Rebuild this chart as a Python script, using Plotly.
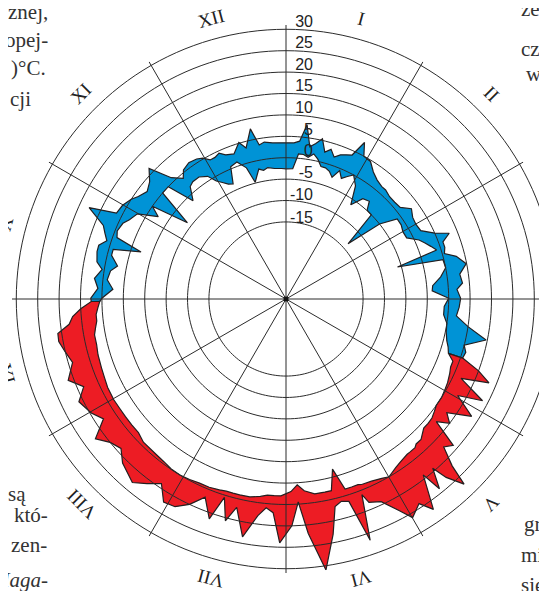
import numpy as np
import plotly.graph_objects as go

# ---- data (day of year, daily max / min temperature, deg C) ----
days = [0, 3, 5, 7, 9, 11, 13, 15, 17, 19, 21, 23, 25, 27, 29, 32, 35, 38, 41, 43,
        46, 49, 52, 55, 58, 61, 64, 67, 69, 71, 73, 75, 77, 80, 83, 86, 88, 91, 94, 97,
        100, 103, 106, 108, 110, 112, 114, 116, 119, 121, 124, 127, 129, 131, 133, 135, 137, 138, 140, 141,
        143, 144, 147, 149, 152, 154, 157, 160, 161, 163, 165, 167, 169, 171, 174, 177, 179, 181, 184, 186,
        188, 190, 193, 196, 198, 200, 202, 205, 208, 211, 214, 217, 220, 223, 228, 231, 234, 237, 240, 243,
        247, 250, 253, 257, 260, 263, 265, 267, 269, 271, 273, 274, 277, 280, 283, 285, 288, 290, 292, 294,
        296, 299, 301, 304, 307, 309, 312, 315, 318, 321, 324, 326, 329, 332, 334, 336, 338, 340, 342, 345,
        348, 350, 353, 355, 357, 360, 363]
tmax = [3.5, 3.5, 4.0, 8.0, 3.0, 4.0, 5.4, 2.5, 3.5, 2.0, 3.0, 3.5, 4.0, 7.9, 5.0, 4.7, 3.0, 2.0, 1.5, 1.5,
        1.0, 1.0, 1.2, 3.1, 2.2, 2.0, 2.3, 5.0, 8.1, 6.0, 6.0, 5.5, 8.0, 9.9, 8.0, 8.4, 7.0, 7.8, 7.5, 7.0,
        10.0, 14.7, 10.0, 10.8, 10.5, 15.0, 18.3, 11.9, 18.7, 13.0, 18.3, 13.0, 15.0, 12.3, 18.9, 17.5, 22.0, 27.0, 23.0, 19.3,
        24.0, 19.1, 27.0, 24.0, 26.0, 23.0, 19.3, 18.3, 16.0, 26.7, 16.5, 16.0, 16.8, 23.0, 31.0, 22.0, 14.5, 20.0, 24.0, 17.0,
        16.0, 18.0, 23.5, 17.0, 20.7, 15.5, 21.4, 17.0, 20.0, 22.0, 22.4, 19.0, 21.0, 22.9, 21.1, 19.0, 20.0, 22.2, 18.0, 19.7,
        21.0, 18.5, 21.3, 19.0, 20.0, 21.0, 20.9, 18.0, 17.0, 15.0, 12.5, 12.6, 11.0, 12.0, 10.5, 12.0, 12.5, 12.5, 11.0, 12.0,
        13.0, 17.7, 11.4, 11.0, 10.0, 9.0, 8.0, 9.0, 11.2, 6.0, 4.0, 5.5, 6.1, 5.8, 5.2, 4.0, 4.0, 4.5, 3.5, 3.0,
        5.2, 3.5, 7.6, 3.5, 4.0, 3.6, 3.5]
tmin = [-2.6, -2.5, 1.0, 1.0, 0.5, 1.5, 0.5, -1.0, -1.0, -1.5, -2.6, -0.5, -2.0, -1.0, 0.0, -2.0, -6.3, -3.5, -3.0, -4.9,
        -5.0, -13.6, -5.0, -1.0, -1.0, -1.5, -1.4, 1.0, 2.0, 3.0, 4.0, -5.9, 4.8, 5.0, 3.5, 1.4, 1.2, 5.0, 4.0, 4.0,
        5.0, 5.2, 5.8, 6.5, 7.0, 8.6, 8.6, 9.0, 9.5, 9.7, 10.0, 10.0, 10.5, 11.0, 11.1, 11.1, 12.0, 12.5, 12.5, 13.0,
        13.0, 13.0, 13.5, 14.0, 15.0, 14.5, 14.0, 13.8, 13.5, 13.5, 13.5, 8.2, 13.0, 13.0, 13.0, 12.0, 10.5, 12.0, 13.0, 13.0,
        13.0, 13.5, 14.0, 14.0, 14.0, 14.0, 14.2, 14.5, 14.5, 14.8, 15.0, 14.9, 14.5, 14.3, 14.2, 13.5, 13.5, 13.5, 13.5, 13.6,
        13.5, 13.2, 13.0, 12.8, 12.5, 12.5, 12.0, 11.5, 11.5, 11.0, 10.5, 10.0, 7.5, 9.0, 8.5, 7.1, 9.0, 9.0, 2.6, 9.0,
        9.5, 9.0, 8.0, 7.0, 2.5, 5.0, -3.9, 5.0, 5.0, -1.4, 1.5, 2.0, 2.0, 1.0, -1.0, -2.0, -3.0, -3.4, 0.5, 1.0,
        -1.0, -4.8, -2.0, -2.5, -2.0, -2.4, -2.5]

warm_first_day = 110   # red part of the year
warm_last_day = 273
radial_ticks = [-15, -10, -5, 0, 5, 10, 15, 20, 25, 30]
month_labels = ["I", "II", "III", "IV", "V", "VI", "VII", "VIII", "IX", "X", "XI", "XII"]

# page text around the figure (fragments of the surrounding article), page pixel positions
page_left = [("znej,", 50, 12, False), ("opej-", 50, 40, False), (")°C.", 48, 68, False),
             ("cji", 33, 99, False), ("-", 8, 461, False), ("są", 28, 494, False),
             ("któ-", 50, 515, False), ("zen-", 49, 545, False), ("Maga-", 50, 580, True)]
page_right = [("że", 519, 9), ("czy", 519, 49), ("w", 524, 74),
              ("gru", 522, 524), ("mi", 519, 555), ("się", 519, 585)]

# ---- geometry (page pixels; the page body adds an 8 px margin around the figure) ----
PAGE_OFF = 8
CX_PAGE, CY_PAGE, RADIUS = 286, 299, 274
R_MIN, R_MAX = -33, 31
ML = CX_PAGE - PAGE_OFF - RADIUS
MT = CY_PAGE - PAGE_OFF - RADIUS
MR, MB = 0, 20
plot_w = plot_h = 2 * RADIUS
W, H = ML + plot_w + MR, MT + plot_h + MB
cx, cy = ML + RADIUS, MT + RADIUS          # figure pixels
px_per_unit = RADIUS / (R_MAX - R_MIN)


def to_paper(xpage, ypage):
    xf, yf = xpage - PAGE_OFF, ypage - PAGE_OFF
    return (xf - ML) / plot_w, (H - MB - yf) / plot_h


RED = "#ED1C24"
BLUE = "#0093D6"
INK = "#231F20"

d = np.array(days)
hi = np.array(tmax)
lo = np.array(tmin)
theta = d * 360.0 / 365.0


def band(idx):
    th = theta[idx]
    r = np.concatenate([hi[idx], lo[idx][::-1], hi[idx][:1]])
    t = np.concatenate([th, th[::-1], th[:1]])
    return r, t


warm_idx = np.where((d >= warm_first_day) & (d <= warm_last_day))[0]
cold_idx = np.concatenate([np.where(d >= warm_last_day)[0], np.where(d <= warm_first_day)[0]])

fig = go.Figure()
for idx, col in ((cold_idx, BLUE), (warm_idx, RED)):
    r, t = band(idx)
    fig.add_trace(go.Scatterpolar(r=r, theta=t, mode="lines", fill="toself", fillcolor=col,
                                  line=dict(color=INK, width=1.2), hoverinfo="skip", showlegend=False))

# grid drawn over the bands
circ_theta = np.arange(0, 361, 2)
gr, gt = [], []
for v in radial_ticks:
    gr += [v] * len(circ_theta) + [None]
    gt += list(circ_theta) + [None]
for a in range(0, 360, 30):
    gr += [R_MIN, R_MAX, None]
    gt += [a, a, None]
fig.add_trace(go.Scatterpolar(r=gr, theta=gt, mode="lines", line=dict(color="#2b2b2b", width=1),
                              hoverinfo="skip", showlegend=False, connectgaps=False))
fig.add_trace(go.Scatterpolar(r=[R_MIN], theta=[0], mode="markers", marker=dict(color="#111", size=5),
                              hoverinfo="skip", showlegend=False))

# radial tick labels along the vertical axis, sitting just above each circle
lab_r = np.array(radial_ticks, dtype=float)
lab_t = np.degrees(np.arcsin(27 / ((lab_r - R_MIN) * px_per_unit)))
fig.add_trace(go.Scatterpolar(r=lab_r, theta=lab_t, mode="text", text=[str(v) for v in radial_ticks],
                              textposition="top left", cliponaxis=False,
                              textfont=dict(family="Liberation Sans, Arial", size=16, color="#222"),
                              hoverinfo="skip", showlegend=False))

annotations = []
for i, lab in enumerate(month_labels):
    a = 15 + 30 * i
    xp = cx + 290 * np.sin(np.radians(a))
    yp = cy - 290 * np.cos(np.radians(a))
    annotations.append(dict(text=lab, x=(xp - ML) / plot_w, y=(H - MB - yp) / plot_h,
                            xref="paper", yref="paper", showarrow=False, textangle=a,
                            xanchor="center", yanchor="middle",
                            font=dict(family="Liberation Serif, Times New Roman", size=19, color="#222")))

for txt, xr, yc, ital in page_left:
    px, py = to_paper(xr, yc)
    annotations.append(dict(text=f"<i>{txt}</i>" if ital else txt, x=px, y=py,
                            xref="paper", yref="paper", showarrow=False,
                            xanchor="right", yanchor="middle",
                            font=dict(family="Liberation Serif, Times New Roman", size=21, color="#333")))
for txt, xl, yc in page_right:
    px, py = to_paper(xl, yc)
    annotations.append(dict(text=txt, x=px, y=py, xref="paper", yref="paper", showarrow=False,
                            xanchor="left", yanchor="middle",
                            font=dict(family="Liberation Serif, Times New Roman", size=21, color="#333")))

fig.update_layout(
    width=W, height=H, autosize=False,
    margin=dict(l=ML, r=MR, t=MT, b=MB, pad=0),
    paper_bgcolor="white",
    showlegend=False,
    annotations=annotations,
    polar=dict(
        domain=dict(x=[0, 1], y=[0, 1]),
        bgcolor="white",
        radialaxis=dict(range=[R_MIN, R_MAX], showgrid=False, showticklabels=False,
                        showline=False, ticks=""),
        angularaxis=dict(rotation=90, direction="clockwise", showgrid=False,
                         showticklabels=False, showline=False, ticks=""),
    ),
)

fig.write_html("out.html", config={"displayModeBar": False})
